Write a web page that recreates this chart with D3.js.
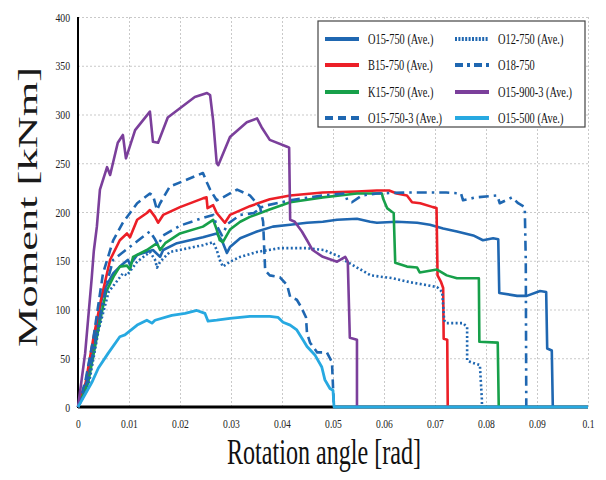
<!DOCTYPE html>
<html>
<head>
<meta charset="utf-8">
<script src="https://cdn.jsdelivr.net/npm/d3@7"></script>
<style>
  body { margin: 0; background: #fff; }
  text { font-family: "Liberation Serif", "DejaVu Serif", serif; }
</style>
</head>
<body>
<div id="chart"></div>
<script>
// legend order: first column then second column
const seriesNames = ["O15-750 (Ave.)", "B15-750 (Ave.)", "K15-750 (Ave.)", "O15-750-3 (Ave.)",
                     "O12-750 (Ave.)", "O18-750", "O15-900-3 (Ave.)", "O15-500 (Ave.)"]
const xTicks = [0, 0.01, 0.02, 0.03, 0.04, 0.05, 0.06, 0.07, 0.08, 0.09, 0.1]
const xTickLabels = ["0", "0.01", "0.02", "0.03", "0.04", "0.05", "0.06", "0.07", "0.08", "0.09", "0.1"]
const yTicks = [0, 50, 100, 150, 200, 250, 300, 350, 400]
const yTickLabels = ["0", "50", "100", "150", "200", "250", "300", "350", "400"]

// [rotation angle (rad), moment (kNm)]
const o15_750 = [[0,0],[0.002,30],[0.0035,75],[0.0049,118],[0.0069,137],[0.0082,144],[0.0098,151],[0.0102,146],
  [0.0116,156],[0.0147,161],[0.0161,154],[0.0167,161],[0.0194,168],[0.0245,174],[0.0272,178],[0.0282,171],
  [0.0292,158],[0.0298,164],[0.0318,173],[0.0351,180],[0.0382,185],[0.0416,187],[0.0449,189],[0.048,190],
  [0.0508,192],[0.0547,193],[0.0573,190],[0.0586,189],[0.0625,190],[0.0665,189],[0.069,187],[0.0716,183],
  [0.0743,180],[0.0775,176],[0.0794,171],[0.0814,173],[0.0824,172],[0.0826,117],[0.0861,114],[0.088,114],
  [0.0906,119],[0.0918,118],[0.092,60],[0.0929,58],[0.0931,0]]
const b15_750 = [[0,0],[0.0015,25],[0.003,70],[0.0045,110],[0.0063,151],[0.0082,171],[0.0096,178],[0.0102,174],
  [0.0116,192],[0.0135,199],[0.0141,202],[0.0151,195],[0.0157,189],[0.0167,197],[0.02,205],[0.0245,214],
  [0.0252,215],[0.0254,204],[0.0265,207],[0.0272,199],[0.0288,189],[0.0298,197],[0.0337,206],[0.0376,213],
  [0.0416,217],[0.048,220],[0.0547,221],[0.0586,222],[0.061,222],[0.0625,219],[0.0645,217],[0.0655,210],
  [0.0671,209],[0.0696,205],[0.0703,204],[0.0705,135],[0.0712,128],[0.0716,122],[0.0717,70],[0.0724,69],[0.0725,0]]
const k15_750 = [[0,0],[0.002,25],[0.004,80],[0.0055,118],[0.007,134],[0.0082,144],[0.0096,145],[0.0102,141],
  [0.0108,154],[0.0135,161],[0.0155,168],[0.0161,161],[0.0171,168],[0.02,178],[0.0245,185],[0.0265,192],
  [0.0272,182],[0.0278,171],[0.0284,169],[0.0298,182],[0.0318,190],[0.0337,195],[0.0373,202],[0.0416,210],
  [0.048,215],[0.0547,219],[0.0596,219],[0.0598,214],[0.0606,204],[0.0616,200],[0.0619,199],[0.0622,148],
  [0.0645,144],[0.0665,143],[0.067,138],[0.0704,141],[0.0723,135],[0.0743,132],[0.0786,132],[0.0787,67],
  [0.0823,66],[0.0825,0]]
const o15_750_3 = [[0,0],[0.0015,28],[0.003,70],[0.0049,137],[0.0069,171],[0.0088,189],[0.0116,209],[0.0141,219],
  [0.0147,217],[0.0155,202],[0.0161,209],[0.018,226],[0.0245,240],[0.0253,230],[0.0259,223],[0.0272,212],
  [0.0284,215],[0.0312,223],[0.0337,217],[0.0357,205],[0.0363,190],[0.0365,164],[0.0367,140],[0.0376,135],
  [0.0396,133],[0.041,125],[0.0416,113],[0.0429,110],[0.0437,103],[0.0447,92],[0.0449,76],[0.0455,66],
  [0.0469,56],[0.0488,56],[0.0498,46],[0.05,21],[0.0502,0]]
const o12_750 = [[0,0],[0.002,20],[0.004,78],[0.006,118],[0.0088,137],[0.0096,135],[0.0116,149],[0.0141,159],
  [0.0151,151],[0.0155,143],[0.0161,149],[0.018,159],[0.0245,166],[0.0265,169],[0.0272,161],[0.0278,151],
  [0.0284,144],[0.0298,149],[0.0318,154],[0.0351,159],[0.0396,163],[0.0447,163],[0.0482,161],[0.0514,154],
  [0.0527,149],[0.0574,135],[0.0618,132],[0.0651,128],[0.0684,125],[0.0704,123],[0.0714,118],[0.0718,89],
  [0.0722,86],[0.0755,86],[0.0763,82],[0.0763,48],[0.077,46],[0.0788,43],[0.0792,7],[0.0792,0]]
const o18_750 = [[0,0],[0.002,30],[0.004,85],[0.0058,130],[0.0069,151],[0.0116,170],[0.0141,180],[0.0151,172],
  [0.0157,166],[0.0167,176],[0.02,186],[0.0245,194],[0.0265,197],[0.0272,186],[0.0282,176],[0.0294,188],
  [0.0318,197],[0.0345,199],[0.0363,206],[0.0416,212],[0.048,217],[0.0524,219],[0.0528,212],[0.0537,210],
  [0.0557,217],[0.0586,219],[0.0645,220],[0.0686,220],[0.0722,220],[0.0751,219],[0.0755,212],[0.078,215],
  [0.0822,217],[0.0827,209],[0.0851,215],[0.0863,209],[0.0876,205],[0.0878,150],[0.0879,0]]
const o15_900_3 = [[0,0],[0.0014,55],[0.0027,133],[0.0031,160],[0.0037,185],[0.0043,223],[0.0057,246],
  [0.0063,238],[0.0078,271],[0.0088,279],[0.0094,255],[0.0112,284],[0.0141,303],[0.0147,272],[0.0157,271],
  [0.0176,297],[0.0229,318],[0.0253,322],[0.0259,320],[0.0265,294],[0.0272,250],[0.0275,248],[0.0298,277],
  [0.0331,292],[0.0351,296],[0.036,287],[0.0376,274],[0.041,267],[0.0414,266],[0.0416,192],[0.0425,190],
  [0.0439,180],[0.0449,171],[0.046,161],[0.048,154],[0.0508,149],[0.0524,154],[0.0529,149],[0.0533,71],
  [0.0547,69],[0.0547,0]]
const o15_500 = [[0,0],[0.0027,25],[0.004,40],[0.0059,55],[0.0082,72],[0.0092,74],[0.0116,84],[0.0135,89],
  [0.0145,86],[0.0151,89],[0.0184,94],[0.021,96],[0.0233,99],[0.0249,96],[0.0255,88],[0.0272,89],[0.0298,91],
  [0.0337,93],[0.0376,93],[0.0392,92],[0.0402,87],[0.0416,84],[0.0429,79],[0.0441,69],[0.0449,62],[0.0465,53],
  [0.0478,41],[0.0484,28],[0.0494,19],[0.05,17],[0.0502,0],[0.1,0]]

const seriesData = [o15_750, b15_750, k15_750, o15_750_3, o12_750, o18_750, o15_900_3, o15_500]

// line styles per series (same order as seriesNames)
const blue = "#1f67b1"
const styles = [
  {color: blue, dash: null, legendDash: null},
  {color: "#ec1f27", dash: null, legendDash: null},
  {color: "#17a04a", dash: null, legendDash: null},
  {color: blue, dash: "9,5", legendDash: "8,5"},
  {color: blue, dash: "2,2.4", legendDash: "2,1.4"},
  {color: blue, dash: "10,5,2.5,5", legendDash: "8,4,3,4"},
  {color: "#7b3f9b", dash: null, legendDash: null},
  {color: "#27a9e1", dash: null, legendDash: null}
]

const width = 606
const height = 480
const marginTop = 17
const marginRight = 18
const marginBottom = 73
const marginLeft = 78

const x = d3.scaleLinear([0, 0.1], [marginLeft, width - marginRight])
const y = d3.scaleLinear([0, 400], [height - marginBottom, marginTop])

const svg = d3.select("#chart")
  .append("svg")
  .attr("width", width)
  .attr("height", height)
  .attr("viewBox", [0, 0, width, height])

// squeeze text horizontally, the original uses a narrow face
const squeeze = (sel, k) => sel.each(function () {
  const w = this.getComputedTextLength()
  d3.select(this).attr("textLength", w * k).attr("lengthAdjust", "spacingAndGlyphs")
})

// grid + tick labels
svg.append("g")
  .attr("transform", `translate(0,${y(0)})`)
  .call(d3.axisBottom(x).tickValues(xTicks).tickFormat((d, i) => xTickLabels[i])
    .tickSize(-(y(0) - y(400))).tickPadding(12))
  .call(g => g.select(".domain").remove())
  .call(g => g.selectAll(".tick line").attr("stroke", "#c9c9c9").attr("stroke-dasharray", "2,2"))
  .call(g => g.selectAll(".tick text").attr("font-size", 12).attr("fill", "#222")
    .attr("font-family", "Liberation Serif").call(squeeze, 0.8))

svg.append("g")
  .attr("transform", `translate(${x(0)},0)`)
  .call(d3.axisLeft(y).tickValues(yTicks).tickFormat((d, i) => yTickLabels[i])
    .tickSize(-(x(0.1) - x(0))).tickPadding(8))
  .call(g => g.select(".domain").remove())
  .call(g => g.selectAll(".tick line").attr("stroke", "#c9c9c9").attr("stroke-dasharray", "2,2"))
  .call(g => g.selectAll(".tick text").attr("font-size", 13).attr("fill", "#222")
    .attr("font-family", "Liberation Serif").call(squeeze, 0.75))

// axis lines
svg.append("line")
  .attr("x1", x(0)).attr("x2", x(0)).attr("y1", y(400)).attr("y2", y(0) + 1)
  .attr("stroke", "#000").attr("stroke-width", 2)
svg.append("line")
  .attr("x1", x(0)).attr("x2", x(0.1)).attr("y1", y(0)).attr("y2", y(0))
  .attr("stroke", "#000").attr("stroke-width", 3)

const line = d3.line().x(d => x(d[0])).y(d => y(d[1]))

svg.append("g")
  .attr("fill", "none")
  .attr("stroke-linejoin", "round")
  .selectAll("path")
  .data(seriesData)
  .join("path")
  .attr("d", line)
  .attr("stroke", (d, i) => styles[i].color)
  .attr("stroke-width", (d, i) => i === 7 ? 2.8 : 2.6)
  .attr("stroke-dasharray", (d, i) => styles[i].dash)

// legend
const legend = svg.append("g")
legend.append("rect")
  .attr("x", 318).attr("y", 21).attr("width", 267).attr("height", 106)
  .attr("fill", "#fff").attr("stroke", "#444").attr("stroke-width", 1.2)

const legendCols = [325, 455]
const legendRows = [39, 65, 92, 118]
const item = legend.selectAll("g")
  .data(seriesNames)
  .join("g")
  .attr("transform", (d, i) => `translate(${legendCols[Math.floor(i / 4)]},${legendRows[i % 4]})`)
item.append("line")
  .attr("x1", 0).attr("x2", 34).attr("y1", 0).attr("y2", 0)
  .attr("stroke", (d, i) => styles[i].color)
  .attr("stroke-width", 4)
  .attr("stroke-dasharray", (d, i) => styles[i].legendDash)
item.append("text")
  .attr("x", 43).attr("y", 5)
  .attr("font-size", 15)
  .attr("fill", "#111")
  .text(d => d)
  .call(squeeze, 0.69)

// axis titles
svg.append("text")
  .attr("x", 227).attr("y", 464)
  .attr("font-size", 35)
  .attr("fill", "#111")
  .attr("textLength", 194).attr("lengthAdjust", "spacingAndGlyphs")
  .text("Rotation angle [rad]")

svg.append("text")
  .attr("transform", "translate(37,347) rotate(-90)")
  .attr("font-size", 27)
  .attr("fill", "#1a1a1a")
  .attr("textLength", 280).attr("lengthAdjust", "spacingAndGlyphs")
  .text("Moment [kNm]")
</script>
</body>
</html>
